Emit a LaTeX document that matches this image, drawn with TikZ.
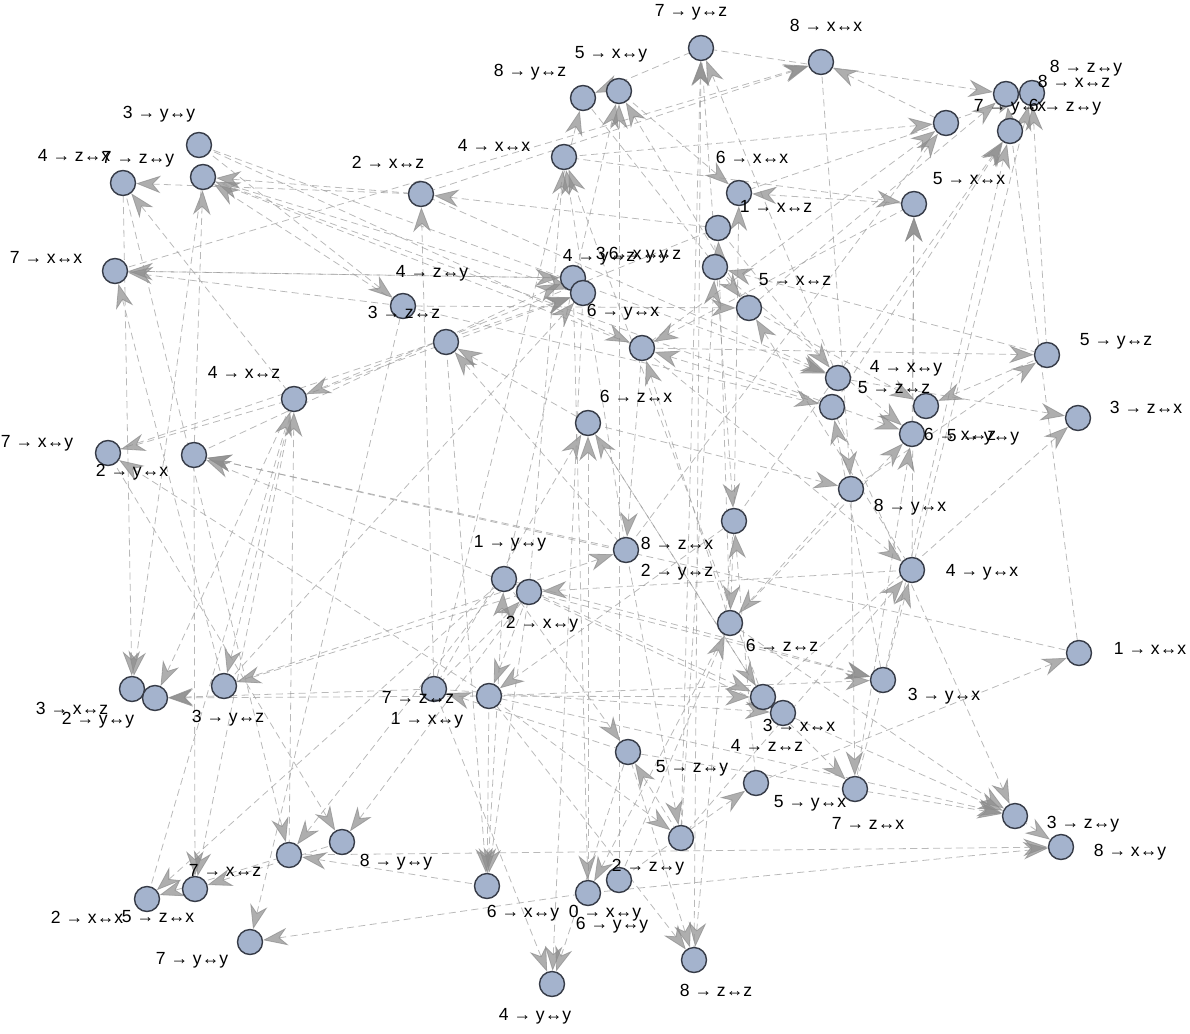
\documentclass[tikz,border=0pt]{standalone}
\usepackage{fontspec}
\setmainfont{Liberation Sans}
\usetikzlibrary{arrows.meta}
\definecolor{vfill}{RGB}{164,179,205}
\definecolor{vline}{RGB}{55,60,72}
\definecolor{edgegray}{RGB}{155,155,155}
\definecolor{tipgray}{RGB}{140,140,140}
\pgfdeclarelayer{bg}
\pgfsetlayers{bg,main}
\tikzset{
  vertex/.style={circle, draw=vline, fill=vfill, line width=0.8pt, minimum size=0.5cm, inner sep=0pt},
  tag/.style={font=\fontsize{10}{12}\selectfont, inner sep=0pt},
  feed/.style={draw=edgegray, line width=0.45pt, dash pattern=on 4pt off 2.5pt,
    {Stealth[length=14pt,width=10pt,inset=4.5pt,color=tipgray]}-, opacity=0.7},
}
\begin{document}
\begin{tikzpicture}[x=0.02cm, y=-0.02cm]
  \useasboundingbox (0,0) rectangle (1190,1034);

  % States
  \node[vertex] (s7yz) at (701,48) {};
  \node[vertex] (s8xx) at (821,62) {};
  \node[vertex] (s5xy) at (619,91) {};
  \node[vertex] (s8yz) at (583,98) {};
  \node[vertex] (s7yx) at (1006,94) {};
  \node[vertex] (s8xz) at (1032,93) {};
  \node[vertex] (s6zy) at (1010,131) {};
  \node[vertex] (s8zy) at (946,123) {};
  \node[vertex] (s3yy) at (199,145) {};
  \node[vertex] (s7zy) at (203,177) {};
  \node[vertex] (s4zx) at (123,183) {};
  \node[vertex] (s2xz) at (421,194) {};
  \node[vertex] (s4xx) at (564,157) {};
  \node[vertex] (s6xx) at (739,193) {};
  \node[vertex] (s1xz) at (718,228) {};
  \node[vertex] (s5xx) at (914,204) {};
  \node[vertex] (s7xx) at (115,271) {};
  \node[vertex] (s6yz) at (715,267) {};
  \node[vertex] (s5xz) at (749,308) {};
  \node[vertex] (s4yz) at (573,278) {};
  \node[vertex] (s3xy) at (583,293) {};
  \node[vertex] (s4zy) at (403,306) {};
  \node[vertex] (s3zz) at (446,342) {};
  \node[vertex] (s6yx) at (642,348) {};
  \node[vertex] (s6zx) at (588,423) {};
  \node[vertex] (s4xz) at (294,399) {};
  \node[vertex] (s4xy) at (838,378) {};
  \node[vertex] (s5zz) at (832,407) {};
  \node[vertex] (s5yy) at (926,406) {};
  \node[vertex] (s6xz) at (912,434) {};
  \node[vertex] (s5yz) at (1047,355) {};
  \node[vertex] (s3zx) at (1078,418) {};
  \node[vertex] (s7xy) at (108,453) {};
  \node[vertex] (s2yx) at (194,455) {};
  \node[vertex] (s8yx) at (851,489) {};
  \node[vertex] (s2yz) at (734,521) {};
  \node[vertex] (s8zx) at (626,550) {};
  \node[vertex] (s1yy) at (504,579) {};
  \node[vertex] (s2xy) at (529,592) {};
  \node[vertex] (s4yx) at (912,570) {};
  \node[vertex] (s6zz) at (730,623) {};
  \node[vertex] (s1xx) at (1079,653) {};
  \node[vertex] (s3xz) at (132,689) {};
  \node[vertex] (s2yy) at (155,698) {};
  \node[vertex] (s3yz) at (224,686) {};
  \node[vertex] (s7zz) at (434,689) {};
  \node[vertex] (s1xy) at (489,696) {};
  \node[vertex] (s3xx) at (763,697) {};
  \node[vertex] (s4zz) at (783,713) {};
  \node[vertex] (s3yx) at (883,680) {};
  \node[vertex] (s5zy) at (628,752) {};
  \node[vertex] (s5yx) at (756,783) {};
  \node[vertex] (s7zx) at (855,789) {};
  \node[vertex] (s3zy) at (1015,816) {};
  \node[vertex] (s8xy) at (1061,847) {};
  \node[vertex] (s8yy) at (342,842) {};
  \node[vertex] (s7xz) at (289,855) {};
  \node[vertex] (s2zy) at (681,838) {};
  \node[vertex] (s6yy) at (619,880) {};
  \node[vertex] (s0xy) at (588,893) {};
  \node[vertex] (s6xy) at (487,886) {};
  \node[vertex] (s5zx) at (195,889) {};
  \node[vertex] (s2xx) at (147,899) {};
  \node[vertex] (s7yy) at (250,942) {};
  \node[vertex] (s4yy) at (552,984) {};
  \node[vertex] (s8zz) at (694,960) {};

  % Labels
  \node[tag] (t7yz) at (691,12) {7 → y↔z};
  \node[tag] (t8xx) at (826,25) {8 → x↔x};
  \node[tag] (t5xy) at (611,54) {5 → x↔y};
  \node[tag] (t8yz) at (530,72) {8 → y↔z};
  \node[tag] (t8zy) at (1086,68) {8 → z↔y};
  \node[tag] (t8xz) at (1074,81) {8 → x↔z};
  \node[tag] (t7yx) at (1010,107) {7 → y↔x};
  \node[tag] (t6zy) at (1065,107) {6 → z↔y};
  \node[tag] (t3yy) at (159,114) {3 → y↔y};
  \node[tag] (t4zx) at (74,155) {4 → z↔x};
  \node[tag] (t7zy) at (138,159) {7 → z↔y};
  \node[tag] (t2xz) at (388,162) {2 → x↔z};
  \node[tag] (t4xx) at (494,145) {4 → x↔x};
  \node[tag] (t6xx) at (752,157) {6 → x↔x};
  \node[tag] (t1xz) at (776,206) {1 → x↔z};
  \node[tag] (t5xx) at (969,179) {5 → x↔x};
  \node[tag] (t7xx) at (46,257) {7 → x↔x};
  \node[tag] (t4yz) at (599,257) {4 → y↔z};
  \node[tag] (t3xy) at (632,255) {3 → x↔y};
  \node[tag] (t6yz) at (645,255) {6 → y↔z};
  \node[tag] (t5xz) at (795,280) {5 → x↔z};
  \node[tag] (t4zy) at (432,273) {4 → z↔y};
  \node[tag] (t3zz) at (404,312) {3 → z↔z};
  \node[tag] (t6yx) at (623,312) {6 → y↔x};
  \node[tag] (t6zx) at (636,396) {6 → z↔x};
  \node[tag] (t4xz) at (244,372) {4 → x↔z};
  \node[tag] (t4xy) at (906,368) {4 → x↔y};
  \node[tag] (t5zz) at (894,388) {5 → z↔z};
  \node[tag] (t5yz) at (1116,341) {5 → y↔z};
  \node[tag] (t3zx) at (1146,407) {3 → z↔x};
  \node[tag] (t6xz) at (960,434) {6 → x↔z};
  \node[tag] (t5yy) at (983,437) {5 → y↔y};
  \node[tag] (t7xy) at (37,443) {7 → x↔y};
  \node[tag] (t2yx) at (132,472) {2 → y↔x};
  \node[tag] (t8yx) at (910,507) {8 → y↔x};
  \node[tag] (t1yy) at (510,543) {1 → y↔y};
  \node[tag] (t8zx) at (677,543) {8 → z↔x};
  \node[tag] (t2yz) at (677,572) {2 → y↔z};
  \node[tag] (t4yx) at (982,572) {4 → y↔x};
  \node[tag] (t2xy) at (542,624) {2 → x↔y};
  \node[tag] (t6zz) at (782,645) {6 → z↔z};
  \node[tag] (t1xx) at (1150,648) {1 → x↔x};
  \node[tag] (t3yx) at (944,696) {3 → y↔x};
  \node[tag] (t7zz) at (418,697) {7 → z↔z};
  \node[tag] (t1xy) at (427,720) {1 → x↔y};
  \node[tag] (t3xz) at (72,708) {3 → x↔z};
  \node[tag] (t2yy) at (98,720) {2 → y↔y};
  \node[tag] (t3yz) at (228,718) {3 → y↔z};
  \node[tag] (t3xx) at (799,725) {3 → x↔x};
  \node[tag] (t4zz) at (767,745) {4 → z↔z};
  \node[tag] (t5zy) at (692,768) {5 → z↔y};
  \node[tag] (t5yx) at (810,803) {5 → y↔x};
  \node[tag] (t7zx) at (868,823) {7 → z↔x};
  \node[tag] (t3zy) at (1083,824) {3 → z↔y};
  \node[tag] (t8xy) at (1130,852) {8 → x↔y};
  \node[tag] (t8yy) at (396,862) {8 → y↔y};
  \node[tag] (t2zy) at (648,867) {2 → z↔y};
  \node[tag] (t7xz) at (225,870) {7 → x↔z};
  \node[tag] (t6xy) at (523,913) {6 → x↔y};
  \node[tag] (t0xy) at (605,913) {0 → x↔y};
  \node[tag] (t6yy) at (612,925) {6 → y↔y};
  \node[tag] (t2xx) at (87,917) {2 → x↔x};
  \node[tag] (t5zx) at (158,917) {5 → z↔x};
  \node[tag] (t7yy) at (192,960) {7 → y↔y};
  \node[tag] (t4yy) at (535,1016) {4 → y↔y};
  \node[tag] (t8zz) at (716,990) {8 → z↔z};

  % Transitions, grouped by the state they lead into
  \begin{pgfonlayer}{bg}
  \begin{scope}[every edge/.style={feed}]
    \path (s7yz) edge (s2zy) edge (s8zz) edge (s4xy);
    \path (s8xx) edge (s2xz) edge (s7xx) edge (s8zy);
    \path (s5xy) edge (s1yy) edge (s6yy) edge (s5xz);
    \path (s8yz) edge (s7yz) edge (s7zz);
    \path (s4xx) edge (s2xy) edge (s8zx) edge (s3xx);
    \path (s2xz) edge (s1xz) edge (s7zz);
    \path (s6xx) edge (s5xy) edge (s5xx) edge (s2yz);
    \path (s1xz) edge (s6zz);
    \path (s7yx) edge (s7yz) edge (s5xz) edge (s1xx);
    \path (s8xz) edge (s6xx) edge (s4yx) edge (s5yz);
    \path (s6zy) edge (s2yz) edge (s3yx) edge (s5zz);
    \path (s8zy) edge (s4xx) edge (s6yx) edge (s8zx);
    \path (s5xx) edge (s4xx) edge (s4yx) edge (s6xz);
    \path (s7zy) edge (s2xz) edge (s2yx) edge (s4zy) edge (s6yx);
    \path (s4zx) edge (s2xz) edge (s4xz);
    \path (s7xx) edge (s4yz) edge (s4zy) edge (s3yz);
    \path (s6yz) edge (s5yz) edge (s2zy);
    \path (s5xz) edge (s8yz) edge (s4zy) edge (s4yx);
    \path (s4yz) edge (s7xx) edge (s2yx);
    \path (s3xy) edge (s4xz) edge (s7xy) edge (s3yz) edge (s7zy);
    \path (s4zy) edge (s3yy);
    \path (s3zz) edge (s6zx) edge (s8zx);
    \path (s6yx) edge (s5xx) edge (s5zz) edge (s6zz) edge (s3yy);
    \path (s6zx) edge (s7zz) edge (s0xy) edge (s3xx);
    \path (s4xz) edge (s1xz) edge (s2xx) edge (s7xz);
    \path (s4xy) edge (s2xz) edge (s3yy) edge (s1xz);
    \path (s5zz) edge (s4zy) edge (s3yx);
    \path (s5yy) edge (s5xz) edge (s5yz);
    \path (s6xz) edge (s6yz) edge (s6zz) edge (s7zx) edge (s7zy);
    \path (s5yz) edge (s6yx) edge (s8yx);
    \path (s3zx) edge (s4xy) edge (s3xx);
    \path (s7xy) edge (s4xz) edge (s1xy);
    \path (s2yx) edge (s8zx) edge (s2xy) edge (s1xx);
    \path (s8yx) edge (s8xx) edge (s6zx);
    \path (s2yz) edge (s7yz) edge (s5yx);
    \path (s8zx) edge (s3yz) edge (s6yx);
    \path (s1yy) edge (s6xy);
    \path (s2xy) edge (s4yx) edge (s7zz);
    \path (s4yx) edge (s6yx) edge (s2zy) edge (s7zx);
    \path (s6zz) edge (s2yz) edge (s8yx) edge (s6yy);
    \path (s1xx) edge (s5yx);
    \path (s3xz) edge (s7zy) edge (s4zx);
    \path (s2yy) edge (s4xz) edge (s7zz) edge (s1xy);
    \path (s3yz) edge (s4xz) edge (s2xy);
    \path (s7zz) edge (s5zy);
    \path (s1xy) edge (s2xy) edge (s2yz);
    \path (s3xx) edge (s1yy) edge (s1xy) edge (s6zx);
    \path (s4zz) edge (s7zz) edge (s2xy);
    \path (s3yx) edge (s2xy) edge (s1xy) edge (s1yy);
    \path (s5zy) edge (s1yy) edge (s2zy);
    \path (s5yx) edge (s6yy);
    \path (s7zx) edge (s3xx) edge (s8yx);
    \path (s3zy) edge (s5zy) edge (s4zz) edge (s6zz) edge (s1xy) edge (s5zz);
    \path (s8xy) edge (s3zy) edge (s0xy) edge (s7xz);
    \path (s8yy) edge (s7xy) edge (s2xy);
    \path (s7xz) edge (s1yy) edge (s6xy) edge (s4zx);
    \path (s2zy) edge (s1xy) edge (s8zx);
    \path (s0xy) edge (s4yz) edge (s6zz);
    \path (s6xy) edge (s1xy) edge (s2xy) edge (s3zz);
    \path (s5zx) edge (s2yx) edge (s4xz) edge (s8yy);
    \path (s2xx) edge (s1yy) edge (s7xz);
    \path (s7yy) edge (s4zy) edge (s0xy);
    \path (s4yy) edge (s7zz) edge (s3xy) edge (s5zy);
    \path (s8zz) edge (s5zy) edge (s2yz) edge (s1xy);
  \end{scope}
  \end{pgfonlayer}
\end{tikzpicture}
\end{document}
